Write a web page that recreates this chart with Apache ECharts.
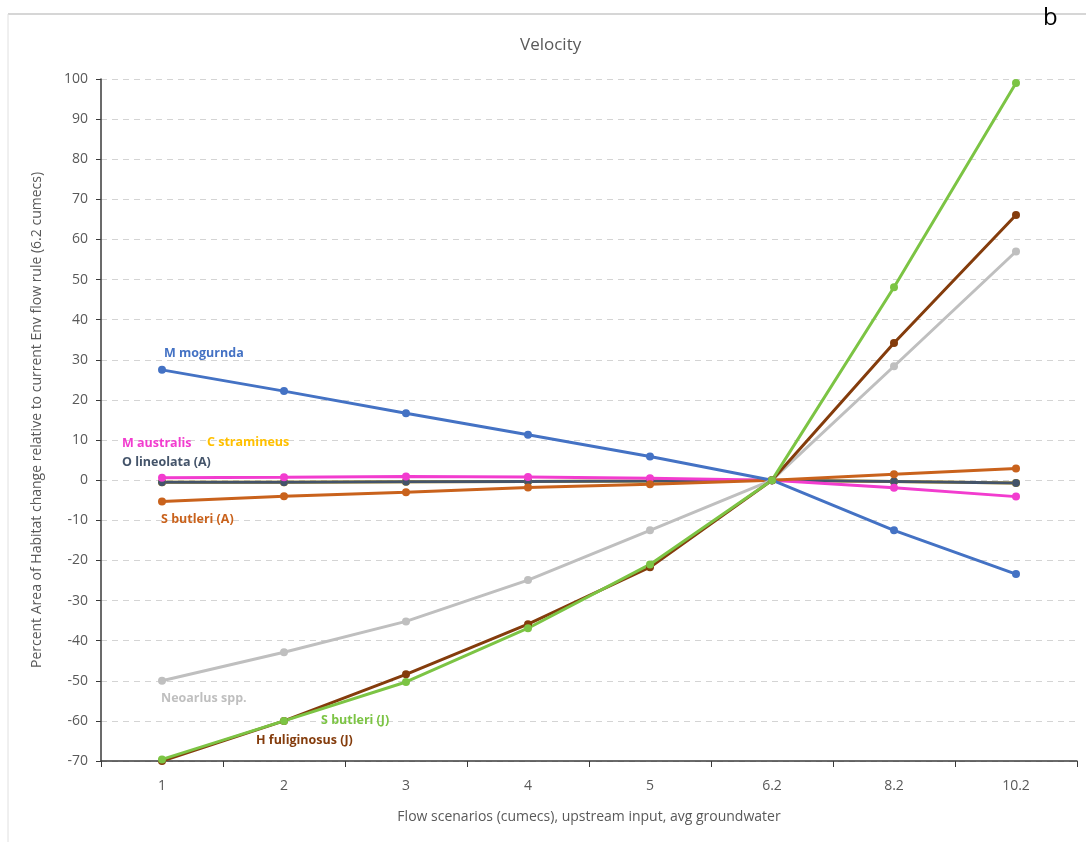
<!DOCTYPE html>
<html><head><meta charset="utf-8">
<script src="https://cdn.jsdelivr.net/npm/echarts@6/dist/echarts.min.js"></script>
<style>html,body{margin:0;padding:0;background:#fff}#c{width:1086px;height:842px}</style>
</head><body><div id="c"></div>
<script>
const categories = ['1','2','3','4','5','6.2','8.2','10.2'];
const mMogurnda   = [27.5, 22.2, 16.7, 11.3, 5.9, 0, -12.5, -23.4];
const mAustralis  = [0.6, 0.7, 0.9, 0.8, 0.5, 0, -1.9, -4.1];
const cStramineus = [-0.5, -0.5, -0.4, -0.3, -0.2, 0, -0.3, -0.7];
const oLineolata  = [-0.5, -0.5, -0.4, -0.3, -0.2, 0, -0.3, -0.7];
const sButleriA   = [-5.3, -4.0, -3.0, -1.8, -1.0, 0, 1.5, 2.9];
const neoarlus    = [-50.0, -42.9, -35.2, -24.9, -12.5, 0, 28.4, 57.0];
const hFuliginosus= [-70.0, -60.0, -48.4, -35.9, -21.7, 0, 34.2, 66.1];
const sButleriJ   = [-69.6, -60.0, -50.3, -36.9, -21.0, 0, 48.1, 99.0];
const yTicks = {min:-70, max:100, interval:10};

const FONT = '"Open Sans", "Liberation Sans", sans-serif';
function mkSeries(name, data, color, labelIdx, offset, lw) {
  const d = data.map((v,i) => {
    if (i === labelIdx) {
      return {value: v, label: {show: true, formatter: name, position: 'top', distance: 5,
        align: 'left', verticalAlign: 'middle', offset: offset, color: color,
        fontFamily: FONT, fontSize: 12.5, fontWeight: 'bold'}};
    }
    return v;
  });
  return {name, type: 'line', data: d, symbol: 'circle', symbolSize: 8,
    lineStyle: {color, width: lw || 3}, itemStyle: {color}, z: 3};
}
const chart = echarts.init(document.getElementById('c'), null, {renderer: 'canvas'});
chart.setOption({
  animation: false,
  backgroundColor: '#fff',
  title: {text: 'Velocity', left: 515, top: 32, textStyle: {fontFamily: FONT, fontSize: 17, fontWeight: 'normal', color: '#595959'}},
  graphic: [
    {type: 'line', shape: {x1: 8, y1: 14, x2: 1086, y2: 14}, style: {stroke: '#c8c8c8', lineWidth: 1.5}},
    {type: 'line', shape: {x1: 8, y1: 14, x2: 8, y2: 842}, style: {stroke: '#e0e0e0', lineWidth: 1}},
    {type: 'text', left: 1043, top: 6, style: {text: 'b', fontFamily: FONT, fontSize: 24, fill: '#000'}}
  ],
  grid: {left: 101, right: 9, top: 79, bottom: 81, containLabel: false},
  xAxis: {
    type: 'category', data: categories, boundaryGap: true,
    name: 'Flow scenarios (cumecs), upstream input, avg groundwater',
    nameLocation: 'middle', nameGap: 49,
    nameTextStyle: {fontFamily: FONT, fontSize: 14, color: '#595959'},
    axisLine: {onZero: false, lineStyle: {color: '#3a3a3a', width: 1.5}},
    axisTick: {show: true, length: 6, lineStyle: {color: '#3a3a3a'}},
    axisLabel: {fontFamily: FONT, fontSize: 14, color: '#595959', margin: 18},
    splitLine: {show: false}
  },
  yAxis: {
    type: 'value', min: yTicks.min, max: yTicks.max, interval: yTicks.interval,
    name: 'Percent Area of Habitat change relative to current Env flow rule (6.2 cumecs)',
    nameLocation: 'middle', nameGap: 57,
    nameTextStyle: {fontFamily: FONT, fontSize: 14, color: '#595959'},
    axisLine: {show: true, lineStyle: {color: '#3a3a3a', width: 1.5}},
    axisTick: {show: true, length: 5, lineStyle: {color: '#3a3a3a'}},
    axisLabel: {fontFamily: FONT, fontSize: 14, color: '#595959', margin: 13},
    splitLine: {show: true, lineStyle: {color: '#d4d4d4', type: [6, 5], width: 1}}
  },
  series: [
    mkSeries('C stramineus', cStramineus, '#FFC000', 0, [45, -31]),
    mkSeries('O lineolata (A)', oLineolata, '#44546A', 0, [-40, -11]),
    mkSeries('M australis', mAustralis, '#F23CCF', 0, [-40, -25]),
    mkSeries('S butleri (A)', sButleriA, '#C9621C', 0, [-1, 27]),
    mkSeries('M mogurnda', mMogurnda, '#4472C4', 0, [2, -7]),
    mkSeries('Neoarlus spp.', neoarlus, '#BFBFBF', 0, [-1, 27]),
    mkSeries('H fuliginosus (J)', hFuliginosus, '#843C0C', 1, [-28, 29]),
    mkSeries('S butleri (J)', sButleriJ, '#7CC444', 1, [37, 9])
  ]
});
</script></body></html>
